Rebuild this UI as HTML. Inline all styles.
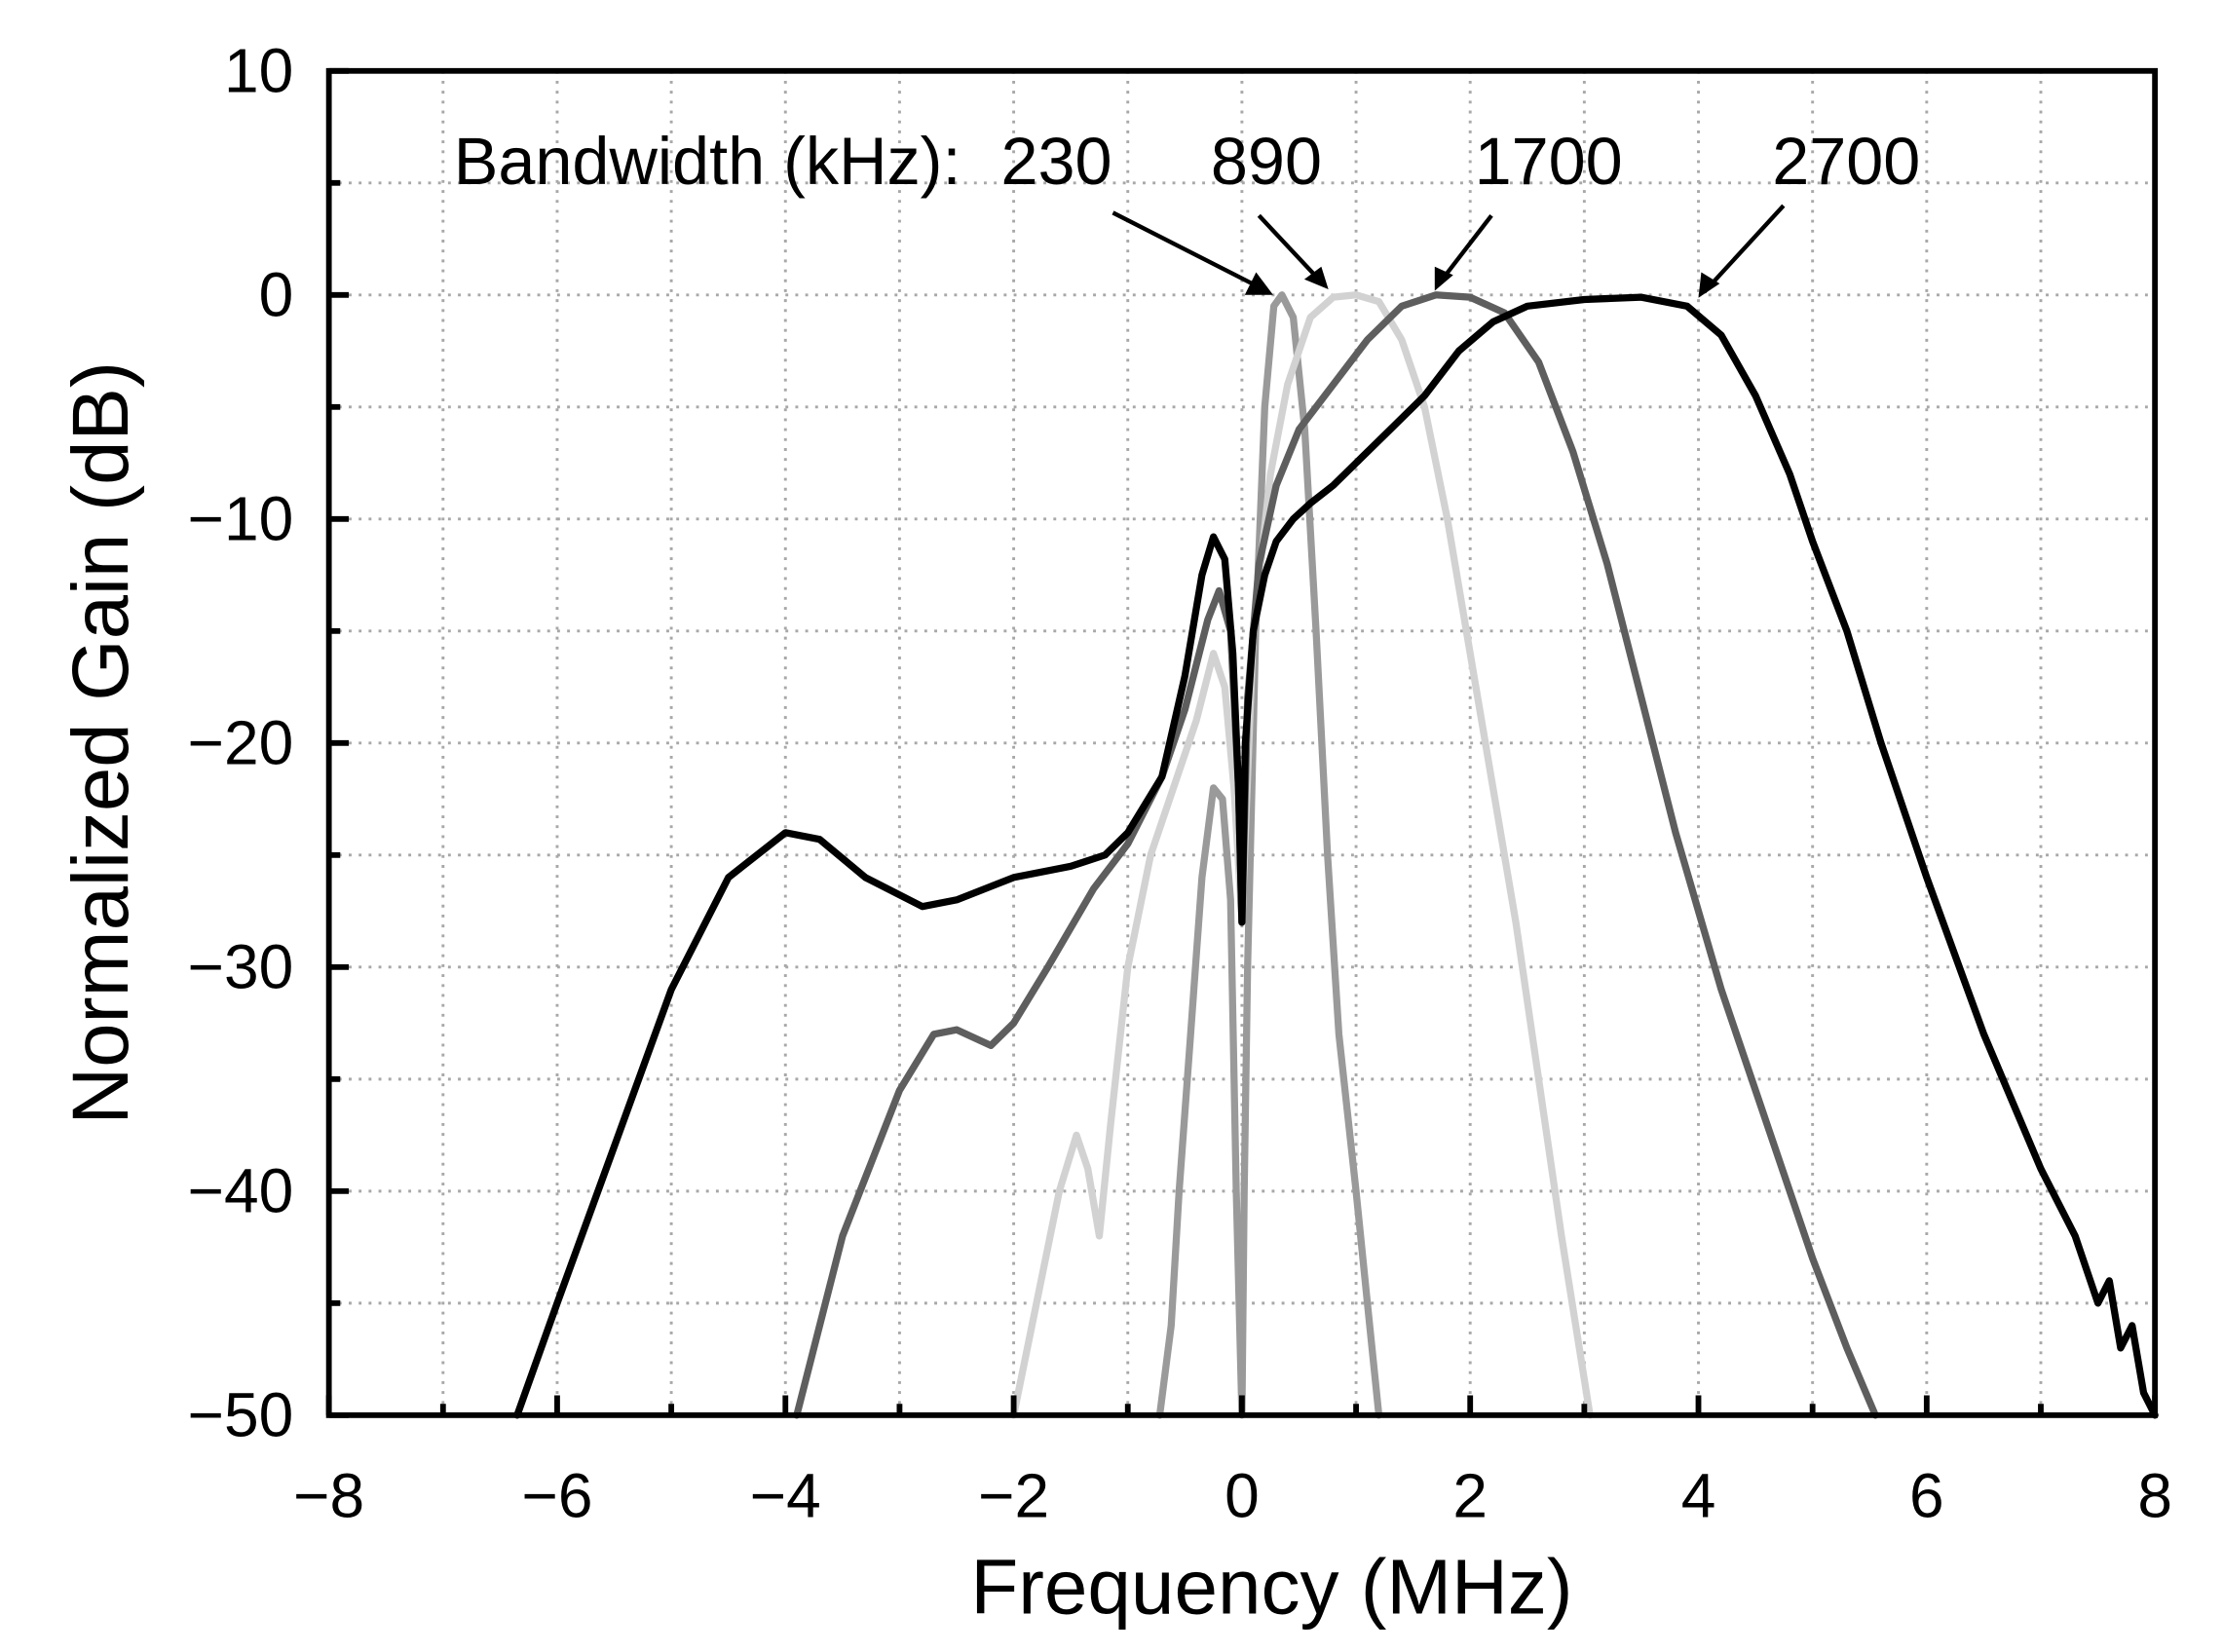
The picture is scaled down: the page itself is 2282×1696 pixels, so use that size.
<!DOCTYPE html>
<html><head><meta charset="utf-8"><style>
html,body{margin:0;padding:0;background:#fff;}
svg{display:block;}
text{font-family:"Liberation Sans",Arial,sans-serif;fill:#000;}
</style></head><body>
<svg id="s" width="2282" height="1696" viewBox="0 0 1568 1165" preserveAspectRatio="none" xmlns="http://www.w3.org/2000/svg">
<g id="grid" stroke="#a8a8a8" stroke-width="2" stroke-dasharray="2,5"></g>
<g id="curves" fill="none" stroke-linejoin="round" stroke-linecap="round"></g>
<rect x="232" y="50" width="1288" height="948" fill="none" stroke="#000" stroke-width="4"/>
<g id="ticks" stroke="#000" stroke-width="4"></g>
<g id="labels" font-size="44"></g>
<text x="897" y="1138" font-size="55" text-anchor="middle">Frequency (MHz)</text>
<text transform="translate(90,524) rotate(-90)" font-size="56" text-anchor="middle">Normalized Gain (dB)</text>
<g font-size="47">
<text x="320" y="130">Bandwidth (kHz):</text>
<text x="706" y="130">230</text>
<text x="854" y="130">890</text>
<text x="1040" y="130">1700</text>
<text x="1250" y="130">2700</text>
</g>
<g stroke="#000" stroke-width="3">
<line x1="785" y1="150" x2="893" y2="205"/>
<line x1="888" y1="152" x2="933" y2="200"/>
<line x1="1052" y1="152" x2="1015" y2="200"/>
<line x1="1258" y1="145" x2="1202" y2="206"/>
</g>
<g fill="#000">
<polygon points="898,208 878,208 886,192"/>
<polygon points="937,204 920,197 932,188"/>
<polygon points="1012,205 1012,188 1025,194"/>
<polygon points="1198,210 1200,192 1213,200"/>
</g>
</svg>
<script>
var X=function(f){return 232+80.5*(f+8);},Y=function(g){return 50+15.8*(10-g);};
var NS="http://www.w3.org/2000/svg";
function el(p,t,a){var e=document.createElementNS(NS,t);for(var k in a)e.setAttribute(k,a[k]);p.appendChild(e);return e;}
var grid=document.getElementById('grid'),ticks=document.getElementById('ticks'),lab=document.getElementById('labels');
for(var f=-7;f<=7;f++){el(grid,'line',{x1:X(f),y1:50,x2:X(f),y2:998});}
for(var g=5;g>=-45;g-=5){el(grid,'line',{x1:232,y1:Y(g),x2:1520,y2:Y(g)});}
for(var f=-8;f<=8;f++){var L=(f%2==0)?14:8;el(ticks,'line',{x1:X(f),y1:998,x2:X(f),y2:998-L});
 if(f%2==0){var t=el(lab,'text',{x:X(f),y:1070,'text-anchor':'middle'});t.textContent=(f<0?'\u2212'+(-f):''+f);}}
for(var g=10;g>=-50;g-=5){var L=(g%10==0)?14:8;el(ticks,'line',{x1:232,y1:Y(g),x2:232+L,y2:Y(g)});
 if(g%10==0){var t=el(lab,'text',{x:207,y:Y(g)+15,'text-anchor':'end'});t.textContent=(g<0?'\u2212'+(-g):''+g);}}
var C=document.getElementById('curves');
function draw(d,col,w){var s='';for(var i=0;i<d.length;i++){s+=(i?'L':'M')+X(d[i][0]).toFixed(1)+','+Y(d[i][1]).toFixed(1);}el(C,'path',{d:s,stroke:col,'stroke-width':w});}
draw([[-0.72,-50],[-0.62,-46],[-0.55,-40],[-0.45,-33],[-0.35,-26],[-0.25,-22],[-0.17,-22.5],[-0.1,-27],[-0.05,-40],[0,-50],[0.02,-40],[0.05,-30],[0.12,-15],[0.2,-5],[0.28,-0.5],[0.35,0],[0.45,-1],[0.55,-6],[0.65,-15],[0.75,-25],[0.85,-33],[1,-40],[1.1,-45],[1.2,-50]],'#9a9a9a',5);
draw([[-2,-50],[-1.8,-45],[-1.6,-40],[-1.45,-37.5],[-1.35,-39],[-1.25,-42],[-1.15,-37],[-1,-30],[-0.8,-25],[-0.6,-22],[-0.4,-19],[-0.25,-16],[-0.15,-17.5],[-0.07,-22],[0,-28],[0.1,-15],[0.25,-8],[0.4,-4],[0.6,-1],[0.8,-0.1],[1,0],[1.2,-0.3],[1.4,-2],[1.6,-5],[1.8,-10],[2,-16],[2.2,-22],[2.4,-28],[2.6,-35],[2.8,-42],[3.05,-50]],'#d2d2d2',5);
draw([[-3.9,-50],[-3.5,-42],[-3,-35.5],[-2.7,-33],[-2.5,-32.8],[-2.2,-33.5],[-2,-32.5],[-1.7,-30],[-1.3,-26.5],[-1,-24.5],[-0.7,-21.5],[-0.5,-18.5],[-0.3,-14.5],[-0.2,-13.2],[-0.1,-15],[-0.03,-22],[0,-28],[0.05,-18],[0.15,-12],[0.3,-8.5],[0.5,-6],[0.8,-4],[1.1,-2],[1.4,-0.5],[1.7,0],[2,-0.1],[2.3,-0.8],[2.6,-3],[2.9,-7],[3.2,-12],[3.5,-18],[3.8,-24],[4.2,-31],[4.6,-37],[5,-43],[5.3,-47],[5.55,-50]],'#5e5e5e',5);
draw([[-6.35,-50],[-6,-45],[-5.5,-38],[-5,-31],[-4.5,-26],[-4,-24],[-3.7,-24.3],[-3.3,-26],[-2.8,-27.3],[-2.5,-27],[-2,-26],[-1.5,-25.5],[-1.2,-25],[-1,-24],[-0.7,-21.5],[-0.5,-17],[-0.35,-12.5],[-0.25,-10.8],[-0.15,-11.8],[-0.08,-16],[-0.03,-22],[0,-28],[0.03,-20],[0.1,-15],[0.2,-12.5],[0.3,-11],[0.45,-10],[0.6,-9.3],[0.8,-8.5],[1,-7.5],[1.3,-6],[1.6,-4.5],[1.9,-2.5],[2.2,-1.2],[2.5,-0.5],[3,-0.2],[3.5,-0.1],[3.9,-0.5],[4.2,-1.8],[4.5,-4.5],[4.8,-8],[5,-11],[5.3,-15],[5.6,-20],[6,-26],[6.5,-33],[7,-39],[7.3,-42],[7.5,-45],[7.6,-44],[7.7,-47],[7.8,-46],[7.9,-49],[8,-50]],'#000',5);
</script>
</body></html>
